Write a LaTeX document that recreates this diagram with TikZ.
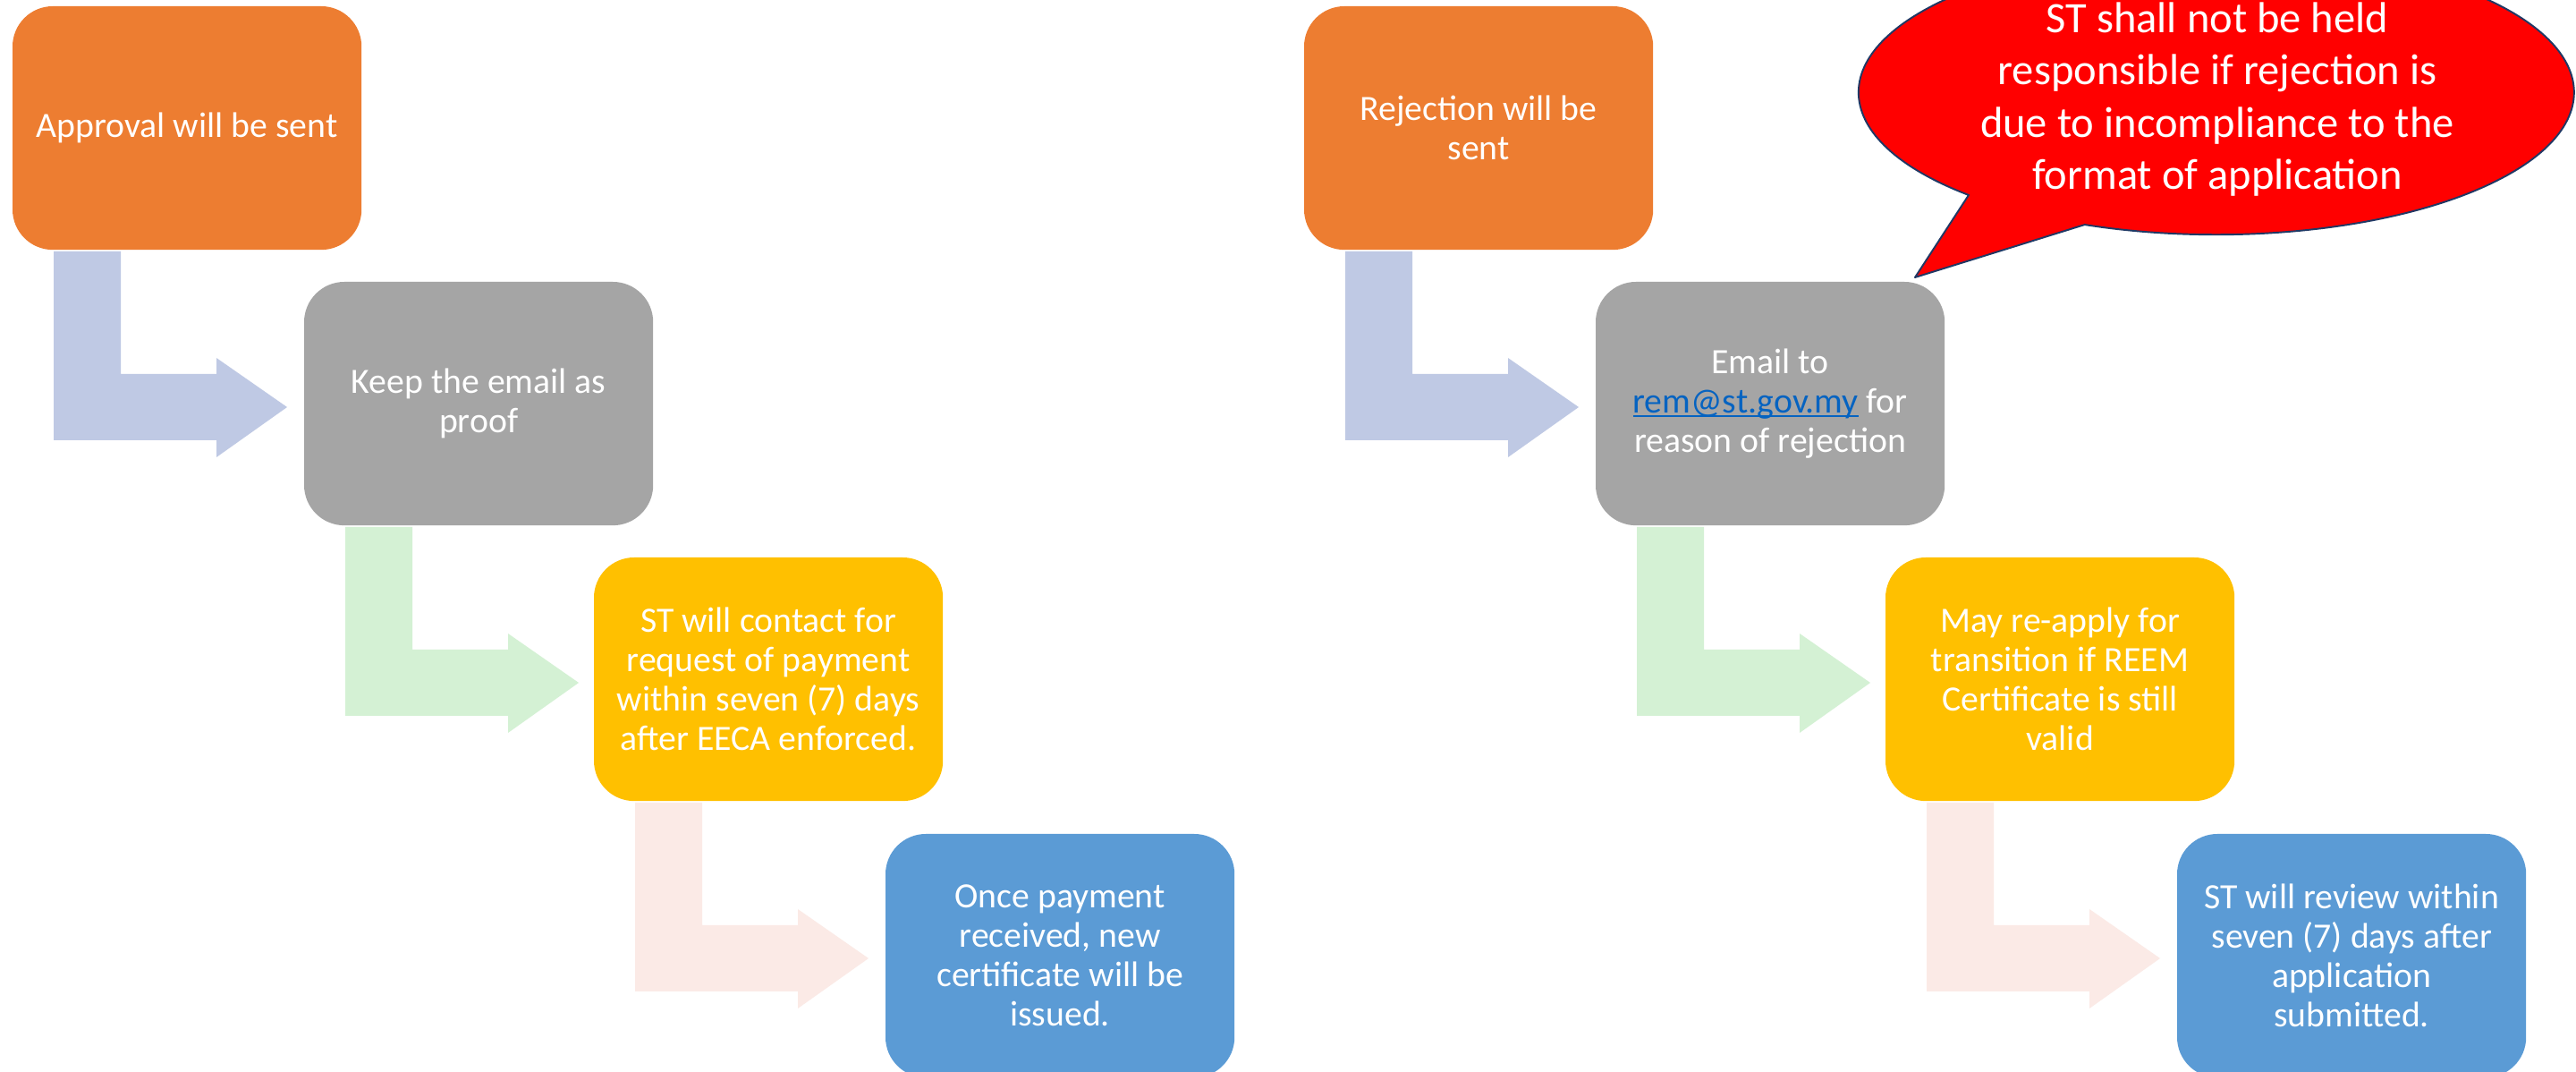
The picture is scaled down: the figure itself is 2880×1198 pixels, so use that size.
\documentclass[tikz,border=0pt]{standalone}
\usepackage{fontspec}
\setmainfont{Carlito}
\definecolor{orng}{HTML}{ED7D31}
\definecolor{gry}{HTML}{A5A5A5}
\definecolor{yel}{HTML}{FFC000}
\definecolor{blu}{HTML}{5B9BD5}
\definecolor{arblue}{HTML}{BFC9E4}
\definecolor{argreen}{HTML}{D4F1D4}
\definecolor{arpink}{HTML}{FBEAE6}
\definecolor{navy}{HTML}{203864}
\definecolor{linkblue}{HTML}{0563C1}
\newcommand{\myul}[1]{{\setbox0\hbox{#1}\rlap{\rule[-1.3pt]{\wd0}{0.45pt}}\box0}}
\begin{document}
\begin{tikzpicture}[x=0.01cm,y=-0.01cm,
  box/.style={rectangle, rounded corners=0.45cm, minimum width=3.9cm, minimum height=2.72cm,
    anchor=north west, text=white, align=center, inner sep=0pt, outer sep=0pt,
    font=\fontsize{11.3}{12.5}\selectfont},
  bentarrow/.pic={\fill[pic actions] (46,274) -- (121,274) -- (121,411) -- (228,411) -- (228,393)
    -- (307,448) -- (228,504) -- (228,485) -- (46,485) -- cycle;},
  calloutfill/.style={fill=red, draw=navy, line width=0.55pt, line join=round}]
\useasboundingbox (0,0) rectangle (2880,1198);
\clip (0,0) rectangle (2880,1198);
\fill[white] (0,0) rectangle (2880,1198);
% left column
\node[box, fill=orng] (A) at (14,7) {Approval will be sent};
\node[box, fill=gry] (B) at (340,315) {Keep the email as\\proof};
\node[box, fill=yel] (C) at (664,623) {ST will contact for\\request of payment\\within seven (7) days\\after EECA enforced.};
\node[box, fill=blu] (D) at (990,932) {Once payment\\received, new\\certificate will be\\issued.};
\pic[fill=arblue] at (A.north west) {bentarrow};
\pic[fill=argreen] at (B.north west) {bentarrow};
\pic[fill=arpink] at (C.north west) {bentarrow};
% right column
\node[box, fill=orng] (A2) at (1458,7) {Rejection will be\\sent};
\node[box, fill=gry] (B2) at (1784,315) {Email to\\{\color{linkblue}\myul{rem@st.gov.my}} for\\reason of rejection};
\node[box, fill=yel] (C2) at (2108,623) {May re-apply for\\transition if REEM\\Certificate is still\\valid};
\node[box, fill=blu] (D2) at (2434,932) {ST will review within\\seven (7) days after\\application\\submitted.};
\pic[fill=arblue] at (A2.north west) {bentarrow};
\pic[fill=argreen] at (B2.north west) {bentarrow};
\pic[fill=arpink] at (C2.north west) {bentarrow};
% callout
\coordinate (tip) at (2141,310);
\draw[calloutfill] (2331,251) -- (tip) -- (2201,218)
  arc[start angle=133.8, end angle=471.5, x radius=400, y radius=159] -- cycle;
\node[text=white, align=center, inner sep=0pt, font=\fontsize{13.8}{16.6}\selectfont] (note) at (2479,111)
  {ST shall not be held\\responsible if rejection is\\due to incompliance to the\\format of application};
\end{tikzpicture}
\end{document}
